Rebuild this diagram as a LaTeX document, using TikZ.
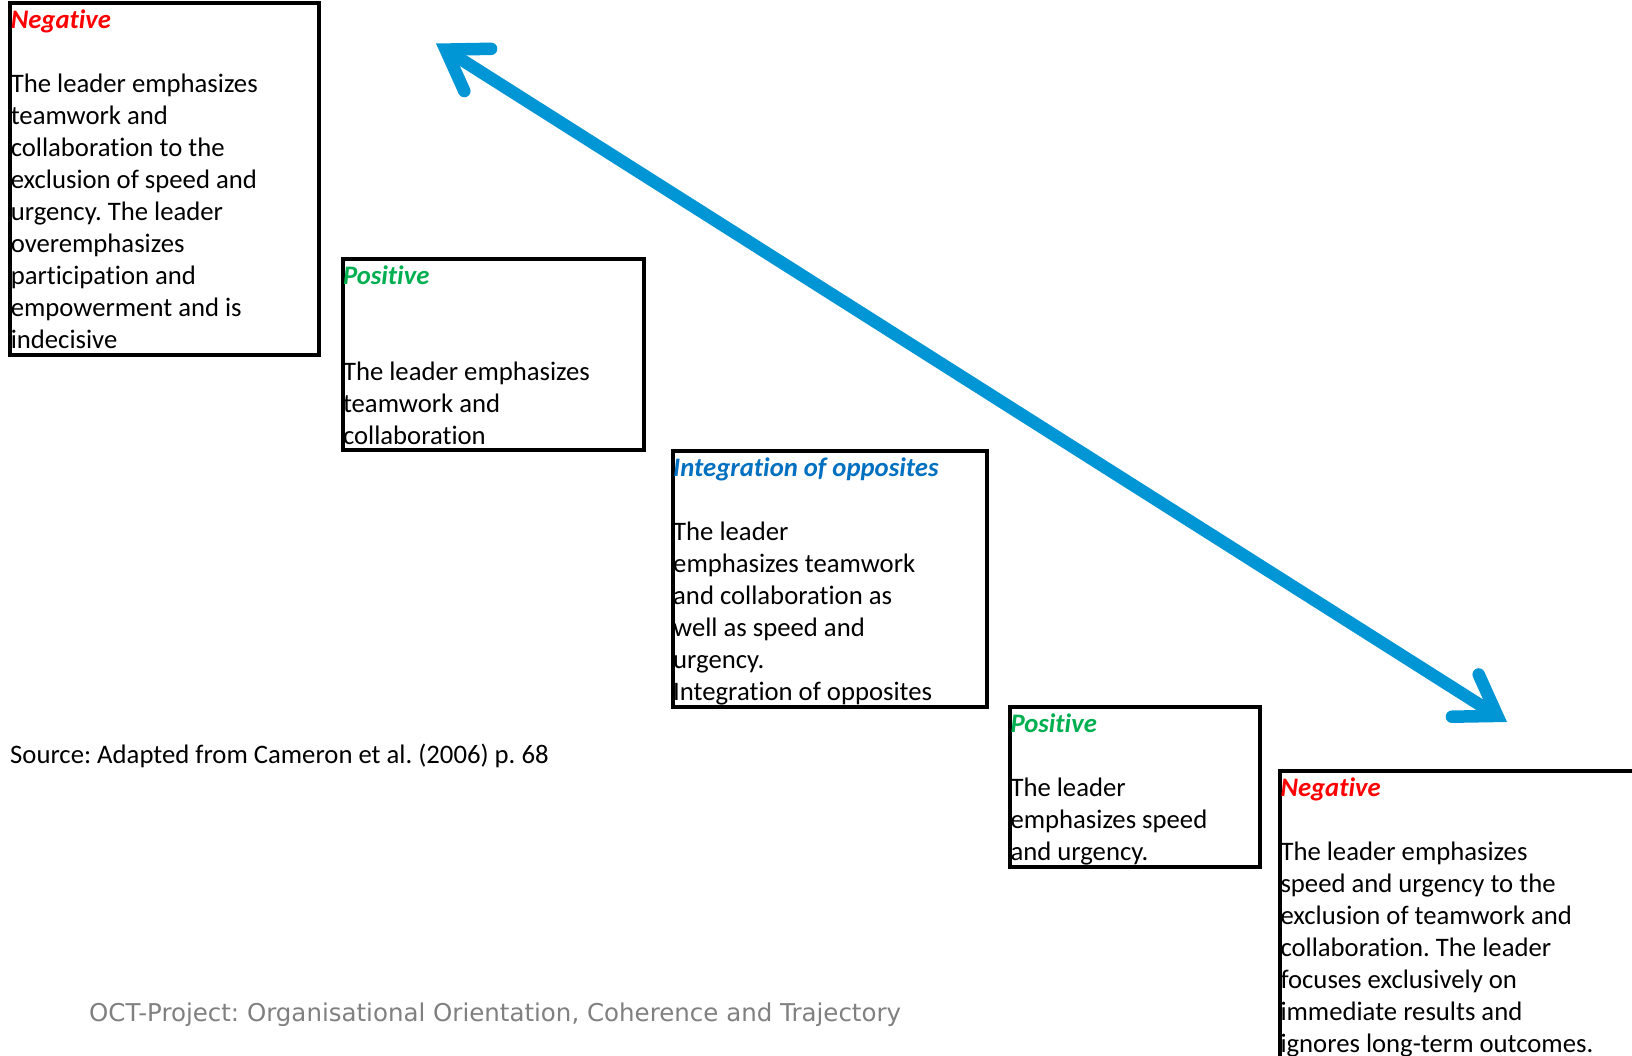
\documentclass[tikz,border=0pt]{standalone}
\usepackage{fontspec}
\setmainfont{Carlito}[Ligatures=NoCommon]
\newfontfamily\footfont{DejaVu Sans}
\usetikzlibrary{arrows.meta,calc}
\definecolor{negred}{RGB}{255,0,0}
\definecolor{posgreen}{RGB}{0,176,80}
\definecolor{intblue}{RGB}{0,112,192}
\definecolor{arrowblue}{RGB}{0,150,214}
\definecolor{footgrey}{RGB}{128,128,128}
\frenchspacing
\begin{document}
\begin{tikzpicture}[x=1pt,y=-1pt,
  frame/.style={draw=black, line width=4pt, inner sep=0pt, outer sep=0pt, anchor=north west},
  body/.style={anchor=north west, inner sep=0pt, outer sep=0pt, align=left,
    font=\fontsize{26.7}{32}\selectfont, text=black},
  bigarrow/.style={draw=arrowblue, line width=12.5pt,
    {Straight Barb[length=38pt,width=50pt,line cap=round,line join=miter]}-{Straight Barb[length=38pt,width=50pt,line cap=round,line join=miter]}}
]
\clip (0,0) rectangle (1632,1055);
\fill[white] (0,0) rectangle (1632,1055);

% frames
\node[frame, minimum width=308.7pt, minimum height=351.4pt] (b1) at (10.3,3.3) {};
\node[frame, minimum width=301.8pt, minimum height=191.3pt] (b2) at (342.5,258.7) {};
\node[frame, minimum width=314.3pt, minimum height=255.5pt] (b3) at (672.7,451) {};
\node[frame, minimum width=250pt, minimum height=160pt] (b4) at (1010,706.7) {};
\node[frame, minimum width=400pt, minimum height=320pt] (b5) at (1280,771) {};

% texts
\node[body] (t1) at ($(b1.north west)+(0.5,3.0)$) {\strut{\bfseries\itshape\color{negred}Negative}\\
\strut\\
The leader emphasizes\\
teamwork and\\
collaboration to the\\
exclusion of speed and\\
urgency. The leader\\
overemphasizes\\
participation and\\
empowerment and is\\
indecisive};

\node[body] (t2) at ($(b2.north west)+(0.5,3.4)$) {\strut{\bfseries\itshape\color{posgreen}Positive}\\
\strut\\
\strut\\
The leader emphasizes\\
teamwork and\\
collaboration};

\node[body] (t3) at ($(b3.north west)+(0.5,3.0)$) {\strut{\bfseries\itshape\color{intblue}Integration of opposites}\\
\strut\\
The leader\\
emphasizes teamwork\\
and collaboration as\\
well as speed and\\
urgency.\\
Integration of opposites};

\node[body] (t4) at ($(b4.north west)+(0.5,3.2)$) {\strut{\bfseries\itshape\color{posgreen}Positive}\\
\strut\\
The leader\\
emphasizes speed\\
and urgency.};

\node[body] (t5) at ($(b5.north west)+(0.5,3.2)$) {\strut{\bfseries\itshape\color{negred}Negative}\\
\strut\\
The leader emphasizes\\
speed and urgency to the\\
exclusion of teamwork and\\
collaboration. The leader\\
focuses exclusively on\\
immediate results and\\
ignores long-term outcomes.};

% source and footer
\node[anchor=base west, inner sep=0pt, font=\fontsize{26.7}{32}\selectfont] (src) at (10,763.5)
  {Source: Adapted from Cameron et al. (2006) p. 68};
\node[anchor=base west, inner sep=0pt, font=\footfont\fontsize{24.5}{29}\selectfont, text=footgrey] (foot) at (89,1021.5)
  {OCT-Project: Organisational Orientation, Coherence and Trajectory};

% double-headed arrow
\coordinate (endA) at (436,43.5);
\coordinate (endB) at (1507,722);
\draw[bigarrow] (endA) -- (endB);
\end{tikzpicture}
\end{document}
